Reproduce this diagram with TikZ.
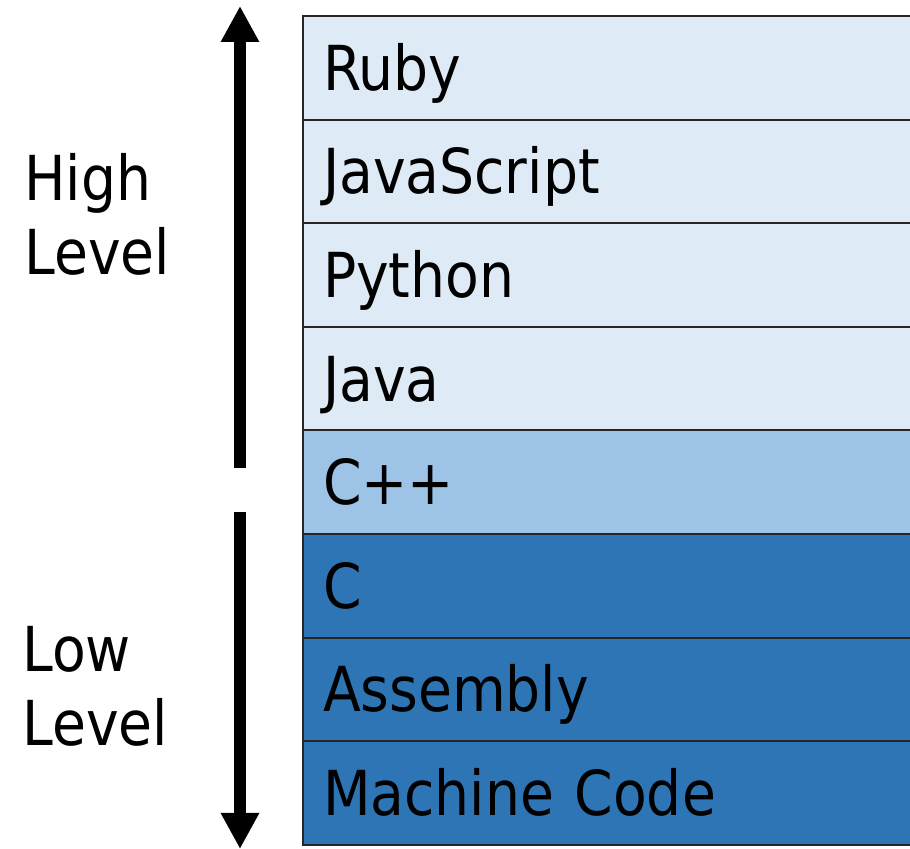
\documentclass[tikz,border=0pt]{standalone}
\usepackage{fontspec}
\setmainfont{DejaVu Sans}[FakeStretch=0.89]
\usetikzlibrary{arrows.meta, positioning}

\definecolor{highblue}{HTML}{DEEBF7}
\definecolor{midblue}{HTML}{9DC3E6}
\definecolor{lowblue}{HTML}{2E75B6}

\begin{document}
\begin{tikzpicture}[%
        x = 0.5pt,
        y = 0.5pt,
        font = \fontsize{31}{37}\selectfont,
        > = {Triangle[width = 18pt, length = 18pt]},
        level/.style = {
            draw = black!85,
            line width = 1pt,
            outer sep = 0pt,
            inner xsep = 10pt,
            minimum width = 310pt,
            minimum height = 51.8pt,
            text width = 290pt,
            text height = 22.5pt,
            text depth = 0pt,
            align = left
        },
        side/.style = {
            align = left,
            inner sep = 0pt,
            anchor = west
        }
    ]
    \useasboundingbox (0, 0) rectangle (910, 849);

    % The stack of languages, from high level down to low level.
    \node[level, fill = highblue, anchor = north west] (ruby) at (303, 833) {Ruby};
    \node[level, fill = highblue, below = 0pt of ruby] (javascript) {JavaScript};
    \node[level, fill = highblue, below = 0pt of javascript] (python) {Python};
    \node[level, fill = highblue, below = 0pt of python] (java) {Java};
    \node[level, fill = midblue, below = 0pt of java] (cpp) {C++};
    \node[level, fill = lowblue, below = 0pt of cpp] (c) {C};
    \node[level, fill = lowblue, below = 0pt of c] (assembly) {Assembly};
    \node[level, fill = lowblue, below = 0pt of assembly] (machine) {Machine Code};

    % End points of the two thick arrows.
    \coordinate (highbottom) at (240, 381);
    \coordinate (hightop) at (240, 843);
    \coordinate (lowtop) at (240, 337);
    \coordinate (lowbottom) at (240, 0);

    \draw[->, line width = 6pt] (highbottom) to (hightop);
    \draw[->, line width = 6pt] (lowtop) to (lowbottom);

    % Labels beside the arrows.
    \node[side] (high) at (24, 635) {High\\Level};
    \node[side] (low) at (22, 163) {Low\\Level};
\end{tikzpicture}
\end{document}
